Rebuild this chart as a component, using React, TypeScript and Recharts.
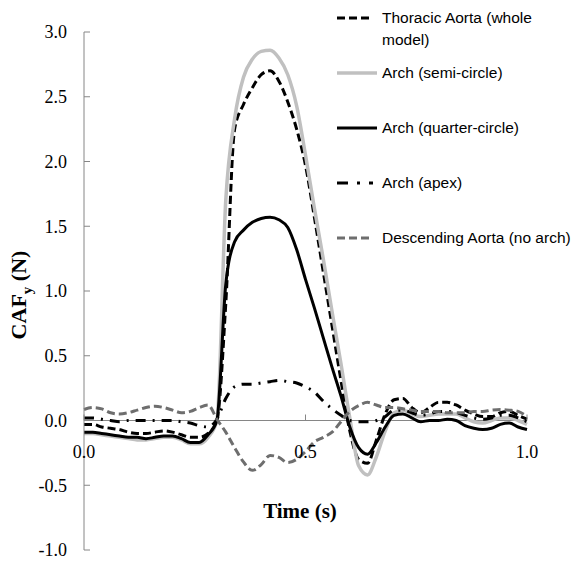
import { LineChart, Line, XAxis, YAxis, ReferenceLine, ReferenceDot } from "recharts"

// time (s) and CAFy (N)
const time = [
  0, 0.02, 0.04, 0.06, 0.08, 0.1, 0.12, 0.14, 0.16, 0.18, 0.2, 0.22, 0.24, 0.26, 0.28, 0.3,
  0.32, 0.34, 0.36, 0.38, 0.4, 0.42, 0.44, 0.46, 0.48, 0.5, 0.52, 0.54, 0.56, 0.58, 0.6,
  0.62, 0.64, 0.66, 0.68, 0.7, 0.72, 0.74, 0.76, 0.78, 0.8, 0.82, 0.84, 0.86, 0.88, 0.9,
  0.92, 0.94, 0.96, 0.98, 1.0,
]

const thoracic = [
  -0.03, -0.03, -0.05, -0.06, -0.07, -0.09, -0.1, -0.1, -0.09, -0.08, -0.09, -0.11, -0.13, -0.13, -0.1, 0.0,
  0.9, 2.25, 2.44, 2.57, 2.67, 2.7, 2.62, 2.46, 2.25, 1.97, 1.57, 1.15, 0.73, 0.31, -0.08,
  -0.3, -0.33, -0.15, 0.05, 0.16, 0.17, 0.1, 0.06, 0.1, 0.14, 0.14, 0.12, 0.08, 0.05, 0.03,
  0.03, 0.06, 0.07, 0.04, 0.01,
]

const semiCircle = [
  -0.1, -0.1, -0.11, -0.12, -0.13, -0.14, -0.15, -0.15, -0.14, -0.13, -0.13, -0.15, -0.18, -0.18, -0.13, 0.0,
  1.7, 2.33, 2.65, 2.79, 2.85, 2.86, 2.8, 2.67, 2.43, 2.05, 1.64, 1.25, 0.84, 0.44, 0.02,
  -0.35, -0.42, -0.28, -0.08, 0.06, 0.08, 0.05, 0.03, 0.04, 0.05, 0.05, 0.05, 0.02, -0.01, -0.02,
  0.0, 0.02, 0.02, 0.0, -0.03,
]

const quarterCircle = [
  -0.09, -0.09, -0.1, -0.11, -0.12, -0.13, -0.13, -0.14, -0.13, -0.12, -0.12, -0.14, -0.17, -0.17, -0.11, 0.0,
  1.05, 1.38, 1.47, 1.53, 1.56, 1.57, 1.55, 1.49, 1.32, 1.09, 0.87, 0.64, 0.41, 0.19, -0.05,
  -0.21, -0.26, -0.17, -0.05, 0.04, 0.05, 0.02, -0.01, 0.0, 0.0, 0.01, 0.0, -0.04, -0.06, -0.07,
  -0.06, -0.03, -0.02, -0.05, -0.07,
]

const apex = [
  0.02, 0.02, 0.01, 0.0, -0.01, 0.0, 0.0, 0.0, 0.0, 0.0, 0.0, -0.01, -0.02, -0.04, -0.05, 0.01,
  0.17, 0.26, 0.28, 0.28, 0.29, 0.3, 0.31, 0.3, 0.29, 0.26, 0.22, 0.15, 0.09, 0.04, 0.0,
  -0.01, -0.01, 0.0, 0.03, 0.08, 0.08, 0.06, 0.04, 0.05, 0.07, 0.07, 0.06, 0.04, 0.02, 0.01,
  0.02, 0.04, 0.04, 0.02, -0.01,
]

const descending = [
  0.085, 0.1, 0.09, 0.06, 0.05, 0.06, 0.08, 0.1, 0.11, 0.1, 0.08, 0.06, 0.07, 0.1, 0.12, 0.01,
  -0.09, -0.21, -0.32, -0.385, -0.34, -0.27, -0.285, -0.325, -0.3, -0.24, -0.165, -0.13, -0.09, -0.01, 0.07,
  0.115, 0.14, 0.12, 0.1, 0.1, 0.09, 0.08, 0.07, 0.07, 0.07, 0.06, 0.06, 0.06, 0.07, 0.07,
  0.08, 0.085, 0.08, 0.07, 0.03,
]

const yTicks = [-1, -0.5, 0, 0.5, 1, 1.5, 2, 2.5, 3]
const xTicks = [0, 0.5, 1]

const seriesNames = [
  "Thoracic Aorta (whole model)",
  "Arch (semi-circle)",
  "Arch (quarter-circle)",
  "Arch (apex)",
  "Descending Aorta (no arch)",
]

const data = time.map((t, i) => ({
  t,
  thoracic: thoracic[i],
  semi: semiCircle[i],
  quarter: quarterCircle[i],
  apex: apex[i],
  desc: descending[i],
}))

const axisGray = "#868686"
const serif = "'Liberation Serif', 'Times New Roman', serif"
const sans = "'Liberation Sans', Arial, sans-serif"

const styles = [
  { key: "thoracic", color: "#000", width: 3, dash: "8 4" },
  { key: "semi", color: "#c0c0c0", width: 3.5, dash: undefined },
  { key: "quarter", color: "#000", width: 3, dash: undefined },
  { key: "apex", color: "#000", width: 3, dash: "10 7 2 7" },
  { key: "desc", color: "#6e6e6e", width: 3, dash: "8 4" },
]

function XTick(label: string) {
  return (p: any) => (
    <g>
      <line x1={p.cx} y1={p.cy} x2={p.cx} y2={p.cy - 6} stroke={axisGray} />
      <text x={p.cx} y={p.cy + 37} textAnchor="middle" fontFamily={serif} fontSize={18} fill="#000">
        {label}
      </text>
    </g>
  )
}

function Legend() {
  return (
    <div style={{ position: "absolute", left: 337, top: 0, fontFamily: sans, fontSize: 15.5, color: "#000" }}>
      {seriesNames.map((name, i) => {
        const s = styles[i]
        return (
          <div key={name} style={{ position: "absolute", top: 18 + 55 * i - 9, left: 0, display: "flex", alignItems: "flex-start" }}>
            <svg width={40} height={18} style={{ flex: "none" }}>
              <line x1={0} y1={9} x2={i === 1 || i === 2 ? 40 : 36} y2={9} stroke={s.color} strokeWidth={s.width} strokeDasharray={i === 3 ? "11 9 3 9" : s.dash} />
            </svg>
            <div style={{ marginLeft: 5, width: 190, lineHeight: "22px", marginTop: -2, whiteSpace: i === 0 ? "normal" : "nowrap" }}>
              <span style={{ display: "inline-block", maxWidth: 185 }}>{name}</span>
            </div>
          </div>
        )
      })}
    </div>
  )
}

export default function App() {
  return (
    <div style={{ position: "absolute", left: 0, top: 0, width: 573, height: 563, background: "#fff" }}>
      <LineChart width={573} height={563} data={data} margin={{ top: 32, right: 46, bottom: 13, left: 4 }}>
        <XAxis dataKey="t" type="number" domain={[0, 1]} hide />
        <YAxis
          type="number"
          domain={[-1, 3]}
          ticks={yTicks}
          width={80}
          interval={0}
          tickFormatter={(v: number) => v.toFixed(1)}
          axisLine={{ stroke: axisGray }}
          tickLine={{ stroke: axisGray }}
          tickSize={-6}
          tickMargin={23}
          tick={{ fill: "#000", fontFamily: serif, fontSize: 18 }}
        />
        <ReferenceLine y={0} stroke={axisGray} strokeWidth={1} />
        {xTicks.map((t) => (
          <ReferenceDot key={t} x={t} y={0} r={2} shape={XTick(t.toFixed(1))} />
        ))}
        {styles.map((s) => (
          <Line
            key={s.key}
            type="monotone"
            dataKey={s.key}
            stroke={s.color}
            strokeWidth={s.width}
            strokeDasharray={s.dash}
            dot={false}
            activeDot={false}
            isAnimationActive={false}
          />
        ))}
      </LineChart>
      <Legend />
      <div
        style={{
          position: "absolute",
          left: 21,
          top: 295,
          transform: "translate(-50%, -50%) rotate(-90deg)",
          whiteSpace: "nowrap",
          fontFamily: serif,
          fontWeight: "bold",
          fontSize: 22,
        }}
      >
        CAF<sub style={{ fontSize: 15 }}>y</sub> (N)
      </div>
      <div
        style={{
          position: "absolute",
          left: 220,
          width: 160,
          top: 498,
          textAlign: "center",
          fontFamily: serif,
          fontWeight: "bold",
          fontSize: 21,
          lineHeight: "26px",
        }}
      >
        Time (s)
      </div>
    </div>
  )
}
